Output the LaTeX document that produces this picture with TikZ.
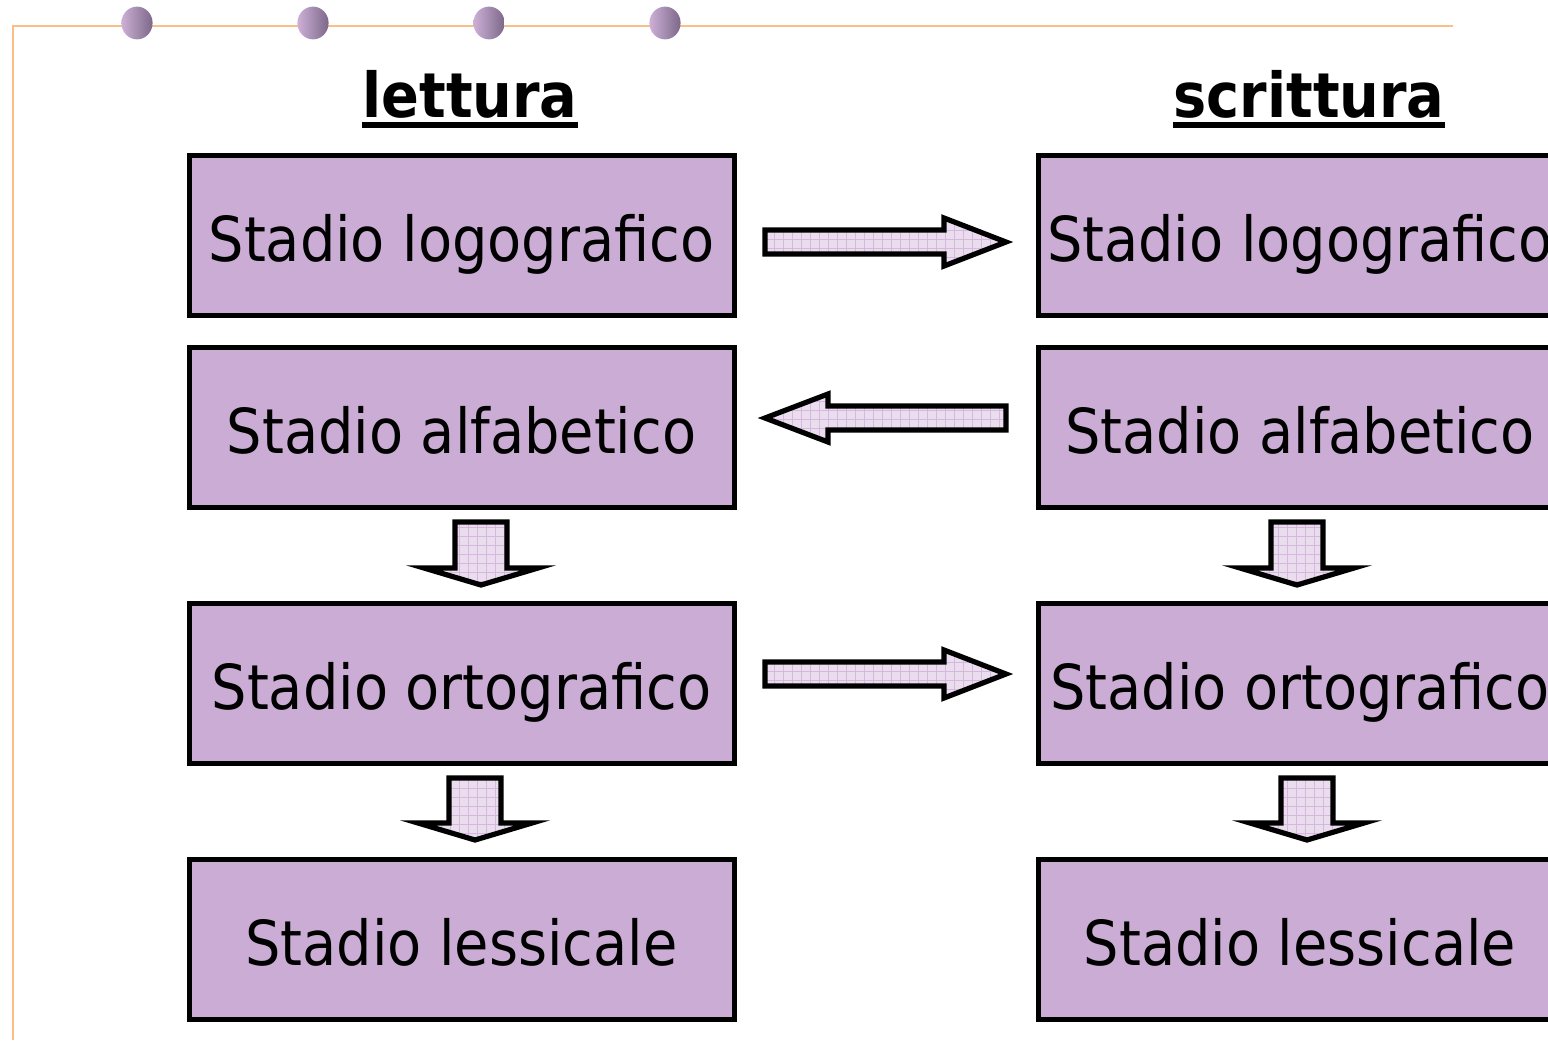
\documentclass[tikz,border=0pt]{standalone}
\usepackage{fontspec}
\setmainfont{DejaVu Sans Condensed}
\usetikzlibrary{calc}
\usetikzlibrary{patterns}

\definecolor{stadiofill}{HTML}{CAACD4}
\definecolor{arrowfill}{HTML}{EADDEE}
\definecolor{gridline}{HTML}{D6B8DE}
\definecolor{frameorange}{HTML}{FABE86}
\definecolor{dotlight}{HTML}{CDB0D6}
\definecolor{dotdark}{HTML}{7C6888}

% wider grid than the one of the patterns library
\pgfdeclarepatternformonly{widegrid}{\pgfqpoint{-1pt}{-1pt}}{\pgfqpoint{5.5pt}{5.5pt}}{\pgfqpoint{4.5pt}{4.5pt}}{
    \pgfsetlinewidth{0.4pt}
    \pgfpathmoveto{\pgfqpoint{0pt}{0pt}}\pgfpathlineto{\pgfqpoint{0pt}{4.6pt}}
    \pgfpathmoveto{\pgfqpoint{0pt}{0pt}}\pgfpathlineto{\pgfqpoint{4.6pt}{0pt}}
    \pgfusepath{stroke}
}

% heading with a heavy underline
\newcommand{\thickul}[1]{\vtop{\hbox{#1}\kern2pt\hrule height 3pt}}

\tikzset{
    stadio/.style = {draw, line width=2.5pt, fill=stadiofill, minimum width=272.5pt,
        minimum height=80pt, inner sep=0pt, outer sep=0pt,
        text height=28pt, text depth=2pt, font=\fontsize{31}{36}\selectfont},
    heading/.style = {anchor=base, inner sep=0pt, font=\fontsize{31}{36}\selectfont\bfseries},
    arrowbody/.style = {fill=arrowfill,
        postaction={pattern=widegrid, pattern color=gridline},
        postaction={draw, line width=2.6pt}},
    % length / head length / shaft width / head width
    pics/blockarrow/.style args={#1/#2/#3/#4}{code={
        \path[arrowbody] (0,-#3/2) -- (#1-#2,-#3/2) -- (#1-#2,-#4/2) -- (#1,0)
            -- (#1-#2,#4/2) -- (#1-#2,#3/2) -- (0,#3/2) -- cycle;
    }}
}

\begin{document}
\begin{tikzpicture}[x=0.5pt, y=-0.5pt]
    \useasboundingbox (0,0) rectangle (1548,1040);

    % frame line and dots
    \draw[frameorange, line width=1pt] (1453,26) -- (13,26) -- (13,1040);
    \foreach \cx in {137,313,489,665}
        \shade[left color=dotlight, right color=dotdark] (\cx,23) ellipse [x radius=7.8pt, y radius=8.2pt];

    \node[heading] (lettura) at (470,117) {\thickul{lettura}};
    \node[heading] (scrittura) at (1309,117) {\thickul{scrittura}};

    % the four stages, reading on the left, writing on the right
    \foreach \nm/\stadio/\y in {log/logografico/235, alf/alfabetico/427, ort/ortografico/683, les/lessicale/939}{
        \node[stadio] (\nm-l) at (461.5,\y) {Stadio \stadio};
        \node[stadio, minimum width=262pt] (\nm-r) at (1300,\y) {Stadio \stadio};
    }

    % arrows between the columns
    \path ($(log-l.east)+(31,7)$) pic {blockarrow=241/62/24/48};
    \path ($(alf-r.west)+(-32,-9)$) pic[rotate=180] {blockarrow=241/63/24/48};
    \path ($(ort-l.east)+(31,-9)$) pic {blockarrow=241/62/24/48};

    % arrows down each column
    \path ($(alf-l.south)+(19.5,15)$) pic[rotate=-90] {blockarrow=63/17/52/114};
    \path ($(alf-r.south)+(-3,15)$) pic[rotate=-90] {blockarrow=63/17/52/114};
    \path ($(ort-l.south)+(13.5,15)$) pic[rotate=-90] {blockarrow=62/17/52/114};
    \path ($(ort-r.south)+(7,15)$) pic[rotate=-90] {blockarrow=62/17/52/114};
\end{tikzpicture}
\end{document}
